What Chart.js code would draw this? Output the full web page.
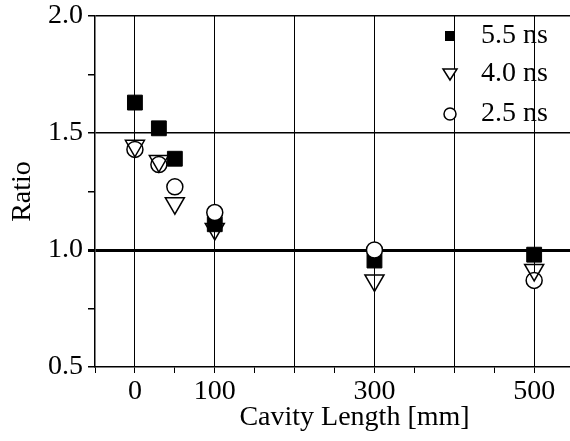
<!DOCTYPE html>
<html>
<head>
<meta charset="utf-8">
<script src="https://cdn.jsdelivr.net/npm/chart.js@4/dist/chart.umd.min.js"></script>
<style>
  body { margin: 0; background: #fff; overflow: hidden; }
  /* the figure is cropped on the right, so the canvas runs past the window */
  #wrap { width: 614px; height: 441px; position: relative; }
</style>
</head>
<body>
<div id="wrap"><canvas id="myChart"></canvas></div>
<script>
const lengths = [0, 30, 50, 100, 300, 500]
const ratio55 = [1.63, 1.52, 1.39, 1.11, 0.955, 0.98]
const ratio40 = [1.445, 1.38, 1.20, 1.09, 0.87, 0.915]
const ratio25 = [1.43, 1.365, 1.27, 1.16, 1.0, 0.87]
const xLabels = [0, 100, 300, 500]
const yLabels = [0.5, 1.0, 1.5, 2.0]
const legendNames = ["5.5 ns", "4.0 ns", "2.5 ns"]

const font = "Liberation Serif"
const fontSize = 28

function points(ys) {
    return lengths.map((x, i) => ({ x: x, y: ys[i] }))
}

// legend sits inside the plot, gridlines run through it
const legendInside = {
    id: "legendInside",
    afterDraw(chart) {
        const ctx = chart.ctx
        const mx = 450
        const rows = [36, 74, 114]
        ctx.save()
        ctx.fillStyle = "#000"
        ctx.strokeStyle = "#000"
        ctx.lineWidth = 1.5
        // square
        ctx.fillRect(mx - 5, rows[0] - 5, 10, 10)
        // triangle down
        ctx.beginPath()
        ctx.moveTo(mx - 7, rows[1] - 5)
        ctx.lineTo(mx + 7, rows[1] - 5)
        ctx.lineTo(mx, rows[1] + 6)
        ctx.closePath()
        ctx.fillStyle = "#fff"
        ctx.fill()
        ctx.stroke()
        // circle
        ctx.beginPath()
        ctx.arc(mx, rows[2], 6, 0, Math.PI * 2)
        ctx.fill()
        ctx.stroke()

        ctx.fillStyle = "#000"
        ctx.font = `${fontSize}px "${font}"`
        ctx.textBaseline = "middle"
        ctx.textAlign = "left"
        legendNames.forEach((t, i) => ctx.fillText(t, 481, rows[i]))
        ctx.restore()
    }
}

const ctx = document.getElementById("myChart").getContext("2d")

new Chart(ctx, {
    type: "scatter",
    data: {
        datasets: [
            {
                label: legendNames[0],
                data: points(ratio55),
                pointStyle: "rect",
                pointRadius: 10.5,
                backgroundColor: "#000",
                borderColor: "#000",
                borderWidth: 1,
                order: 3
            }, {
                label: legendNames[2],
                data: points(ratio25),
                pointStyle: "circle",
                pointRadius: 8,
                backgroundColor: "#fff",
                borderColor: "#000",
                borderWidth: 1.5,
                order: 2
            }, {
                label: legendNames[1],
                data: points(ratio40),
                pointStyle: "triangle",
                pointRotation: 180,
                pointRadius: 11,
                backgroundColor: "rgba(255,255,255,0)",
                borderColor: "#000",
                borderWidth: 1.5,
                order: 1
            }
        ]
    },
    options: {
        responsive: true,
        maintainAspectRatio: false,
        animation: false,
        layout: { autoPadding: false, padding: { top: 16, right: 0, left: 0, bottom: 0 } },
        plugins: {
            legend: { display: false },
            tooltip: { enabled: false }
        },
        scales: {
            x: {
                type: "linear",
                min: -50,
                max: 600,
                afterFit: s => { s.height = 74; s.paddingLeft = 0; s.paddingRight = 0 },
                border: { color: "#000", width: 1.5 },
                grid: {
                    color: c => (c.tick && c.tick.value % 100 === 0 && c.tick.value >= 0) ? "#000" : "rgba(0,0,0,0)",
                    lineWidth: 1,
                    tickColor: "#000",
                    tickLength: 6
                },
                ticks: {
                    stepSize: 50,
                    autoSkip: false,
                    maxRotation: 0,
                    padding: 2,
                    color: "#000",
                    font: { family: font, size: fontSize },
                    callback: v => xLabels.includes(v) ? String(v) : ""
                },
                title: {
                    display: true,
                    text: "Cavity Length [mm]",
                    color: "#000",
                    font: { family: font, size: fontSize },
                    padding: { top: 0, bottom: 7 }
                }
            },
            y: {
                min: 0.5,
                max: 2.0,
                afterFit: s => { s.width = 95; s.paddingTop = 0; s.paddingBottom = 0 },
                border: { color: "#000", width: 1.5 },
                grid: {
                    color: c => {
                        const v = c.tick ? Math.round(c.tick.value * 100) : 0
                        return (v === 100 || v === 150 || v === 200) ? "#000" : "rgba(0,0,0,0)"
                    },
                    lineWidth: c => (c.tick && Math.round(c.tick.value * 100) === 100) ? 3 : 1.5,
                    tickColor: "#000",
                    tickLength: 7
                },
                ticks: {
                    stepSize: 0.25,
                    autoSkip: false,
                    padding: 5,
                    color: "#000",
                    font: { family: font, size: fontSize },
                    callback: v => yLabels.some(l => Math.abs(l - v) < 1e-6) ? v.toFixed(1) : ""
                },
                title: {
                    display: true,
                    text: "Ratio",
                    color: "#000",
                    font: { family: font, size: fontSize },
                    padding: { top: 6, bottom: 0 }
                }
            }
        }
    },
    plugins: [legendInside]
})
</script>
</body>
</html>
